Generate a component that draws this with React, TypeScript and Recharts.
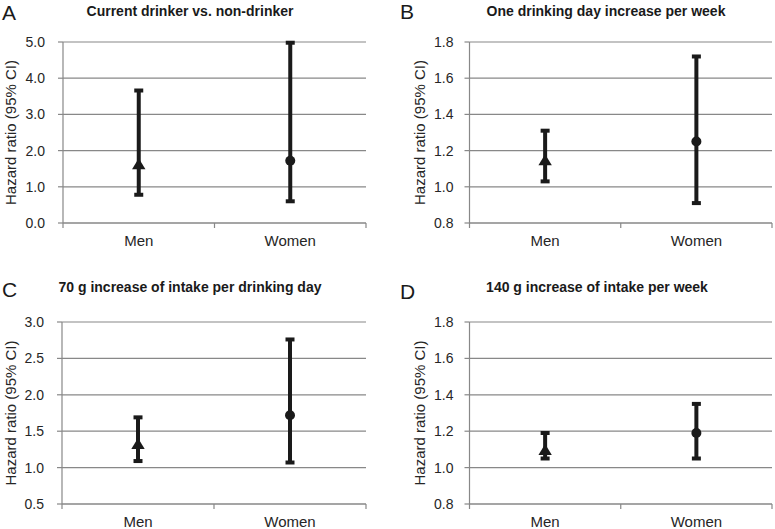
import React from 'react';
import { ScatterChart, Scatter, XAxis, YAxis, CartesianGrid, ErrorBar } from 'recharts';

// values
const categories = ['Men', 'Women'];
const panelLetters = ['A', 'B', 'C', 'D'];
const panelTitles = [
  'Current drinker vs. non-drinker',
  'One drinking day increase per week',
  '70 g increase of intake per drinking day',
  '140 g increase of intake per week',
];
const hazardRatio = [
  [1.64, 1.72],
  [1.15, 1.25],
  [1.33, 1.72],
  [1.1, 1.19],
];
const lowerCI = [
  [0.78, 0.6],
  [1.03, 0.91],
  [1.09, 1.07],
  [1.05, 1.05],
];
const upperCI = [
  [3.66, 4.98],
  [1.31, 1.72],
  [1.69, 2.76],
  [1.19, 1.35],
];
const yTicks = [
  [0, 1, 2, 3, 4, 5],
  [0.8, 1.0, 1.2, 1.4, 1.6, 1.8],
  [0.5, 1.0, 1.5, 2.0, 2.5, 3.0],
  [0.8, 1.0, 1.2, 1.4, 1.6, 1.8],
];
const yAxisTitle = 'Hazard ratio (95% CI)';

const FONT = '"Liberation Sans", Arial, sans-serif';
const INK = '#1a1a1a';
const GRID = '#888888';
const TEXT = '#262626';

// where each panel sits on the page
const layout = [
  { left: 0, top: 0, width: 385, height: 264, margin: { top: 42, right: 19, bottom: 11, left: 0 }, yAxisWidth: 63, xAxisHeight: 30, tickGap: 13, labelX: 16, titleX: 190, titleY: 16, letterX: 2, letterY: 20 },
  { left: 385, top: 0, width: 390, height: 264, margin: { top: 42, right: 3, bottom: 11, left: 0 }, yAxisWidth: 84.5, xAxisHeight: 30, tickGap: 11, labelX: 40, titleX: 606, titleY: 16, letterX: 400, letterY: 19 },
  { left: 0, top: 264, width: 385, height: 265, margin: { top: 58, right: 19, bottom: 0, left: 0 }, yAxisWidth: 62, xAxisHeight: 25, tickGap: 13, labelX: 16, titleX: 190, titleY: 292, letterX: 2, letterY: 297 },
  { left: 385, top: 264, width: 390, height: 265, margin: { top: 58, right: 3, bottom: 0, left: 0 }, yAxisWidth: 84.5, xAxisHeight: 25, tickGap: 11, labelX: 40, titleX: 597, titleY: 292, letterX: 400, letterY: 299 },
];

const Marker = (props: any) => {
  const { cx, cy, payload } = props;
  if (cx == null || cy == null) return null;
  if (payload.sex === 'Men') {
    return <path d={`M${cx},${cy - 5.5} L${cx + 6.7},${cy + 5.5} L${cx - 6.7},${cy + 5.5} Z`} fill={INK} />;
  }
  return <circle cx={cx} cy={cy} r={5} fill={INK} />;
};

// ticks sit between categories, labels sit in the middle of each category
const CategoryTick = (props: any) => {
  const { x, y, payload } = props;
  const v = payload.value;
  if (Number.isInteger(v)) {
    return <line x1={x} x2={x} y1={y} y2={y + 5} stroke={GRID} strokeWidth={1.2} />;
  }
  return (
    <text x={x} y={y + 23} textAnchor="middle" fontSize={15} fontFamily={FONT} fill={TEXT}>
      {categories[Math.floor(v)]}
    </text>
  );
};

const Panel = ({ idx }: { idx: number }) => {
  const l = layout[idx];
  const ticks = yTicks[idx];
  const data = categories.map((sex, i) => ({
    sex,
    x: i + 0.5,
    hr: hazardRatio[idx][i],
    err: [hazardRatio[idx][i] - lowerCI[idx][i], upperCI[idx][i] - hazardRatio[idx][i]],
  }));

  return (
    <div style={{ position: 'absolute', left: l.left, top: l.top }}>
      <ScatterChart width={l.width} height={l.height} margin={l.margin}>
        <CartesianGrid horizontal vertical={false} stroke={GRID} strokeWidth={1.2} />
        <XAxis
          type="number"
          dataKey="x"
          domain={[0, 2]}
          ticks={[0, 0.5, 1, 1.5, 2]}
          interval={0}
          height={l.xAxisHeight}
          tickSize={0}
          tickMargin={0}
          tickLine={false}
          axisLine={{ stroke: GRID, strokeWidth: 1.2 }}
          tick={<CategoryTick />}
        />
        <YAxis
          type="number"
          dataKey="hr"
          domain={[ticks[0], ticks[ticks.length - 1]]}
          ticks={ticks}
          interval={0}
          width={l.yAxisWidth}
          tickSize={5}
          tickMargin={l.tickGap}
          tickFormatter={(v: number) => v.toFixed(1)}
          tick={{ fill: TEXT, fontSize: 14, fontFamily: FONT }}
          tickLine={{ stroke: GRID, strokeWidth: 1.2 }}
          axisLine={{ stroke: GRID, strokeWidth: 1.2 }}
          label={(p: any) => {
            const vb = p.viewBox || {};
            const cx = (vb.x || 0) + l.labelX;
            const cy = (vb.y || 0) + (vb.height || 0) / 2;
            return (
              <text x={cx} y={cy} transform={`rotate(-90, ${cx}, ${cy})`} textAnchor="middle" fontSize={15} fontFamily={FONT} fill={TEXT}>
                {yAxisTitle}
              </text>
            );
          }}
        />
        <Scatter data={data} dataKey="hr" shape={<Marker />} isAnimationActive={false}>
          <ErrorBar dataKey="err" direction="y" width={4.5} strokeWidth={4} stroke={INK} isAnimationActive={false} />
        </Scatter>
      </ScatterChart>
    </div>
  );
};

export default function App() {
  return (
    <div style={{ position: 'absolute', left: 0, top: 0, width: 775, height: 529, background: '#fff', overflow: 'hidden' }}>
      {layout.map((_, i) => (
        <Panel key={i} idx={i} />
      ))}
      <svg width={775} height={529} style={{ position: 'absolute', left: 0, top: 0, pointerEvents: 'none' }}>
        {layout.map((l, i) => (
          <g key={i}>
            <text x={l.letterX} y={l.letterY} fontSize={21} fontFamily={FONT} fill={INK}>
              {panelLetters[i]}
            </text>
            <text x={l.titleX} y={l.titleY} textAnchor="middle" fontSize={14} fontWeight="bold" fontFamily={FONT} fill={INK}>
              {panelTitles[i]}
            </text>
          </g>
        ))}
      </svg>
    </div>
  );
}
